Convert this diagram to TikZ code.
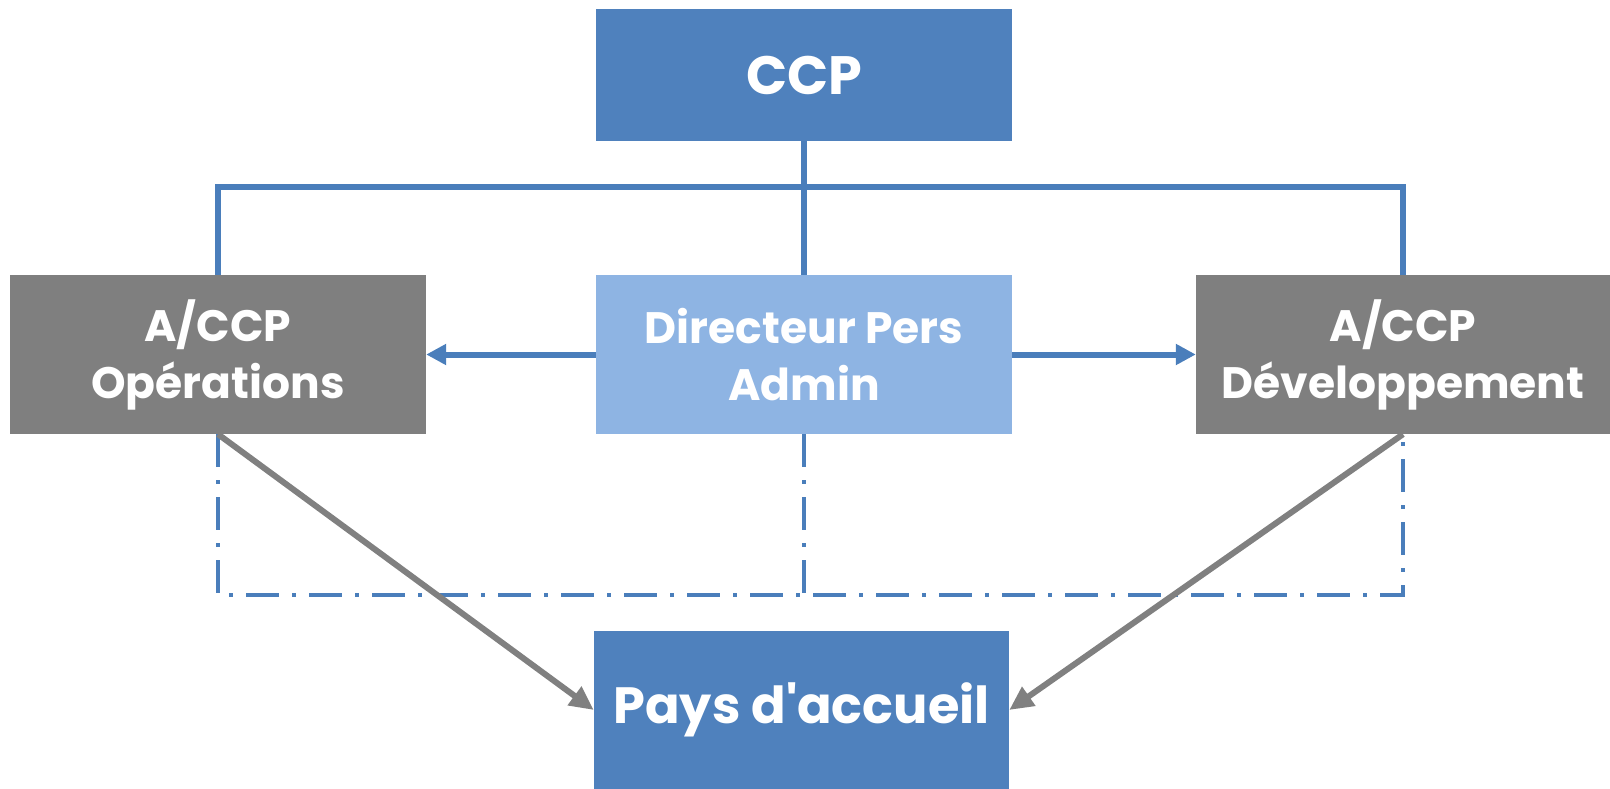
\documentclass[tikz,border=0pt]{standalone}
\usepackage{fontspec}
\setmainfont{Poppins}
\usetikzlibrary{arrows.meta}
\definecolor{cblue}{HTML}{4F81BD}
\definecolor{clight}{HTML}{8EB4E3}
\definecolor{cgray}{HTML}{7F7F7F}
\definecolor{lblue}{HTML}{4A7EBB}
\definecolor{agray}{HTML}{808080}
\tikzset{
  box/.style={rectangle, inner sep=0pt, text=white, align=center, font=\bfseries\fontsize{44}{57}\selectfont},
  bluebox/.style={box, fill=cblue},
  lightbox/.style={box, fill=clight},
  graybox/.style={box, fill=cgray},
  tree/.style={draw=lblue, line width=5.5pt},
  bluearrow/.style={draw=lblue, line width=6pt, -{Triangle[length=20pt,width=20pt]}},
  grayarrow/.style={draw=agray, line width=6pt, -{Triangle[length=24pt,width=22pt]}},
  dashdot/.style={draw=lblue, line width=4.5pt, dash pattern=on 33pt off 13pt on 4pt off 13pt}
}
\begin{document}
\begin{tikzpicture}[x=1pt,y=-1pt]
\useasboundingbox (0,0) rectangle (1610,789);
\node[bluebox, minimum width=416pt, minimum height=132pt, font=\bfseries\fontsize{54}{60}\selectfont] (ccp) at (804,75) {CCP};
\node[lightbox, minimum width=416pt, minimum height=159pt] (dir) at (804,354.5) {Directeur Pers\\Admin};
\node[graybox, minimum width=416pt, minimum height=159pt] (ops) at (218,354.5) {A/CCP\\Opérations};
\node[graybox, minimum width=414pt, minimum height=159pt] (dev) at (1403,354.5) {A/CCP\\Développement};
\node[bluebox, minimum width=415pt, minimum height=158pt, font=\bfseries\fontsize{51}{60}\selectfont] (pays) at (801.5,710) {Pays d\textquotesingle accueil};
\coordinate (bus) at (804,187);
\coordinate (dd) at (804,595);
% tree
\draw[tree] (ccp.south) -- (dir.north);
\draw[tree] (ops.north) |- (bus) -| (dev.north);
% dash-dot
\draw[dashdot] (ops.south) |- (dd) -| (dev.south);
\draw[dashdot] (dir.south) -- (dd);
% arrows
\draw[bluearrow] (dir.west) -- (ops.east);
\draw[bluearrow] (dir.east) -- (dev.west);
\draw[grayarrow] (ops.south) -- (pays.west);
\draw[grayarrow] (dev.south) -- (pays.east);
\end{tikzpicture}
\end{document}
